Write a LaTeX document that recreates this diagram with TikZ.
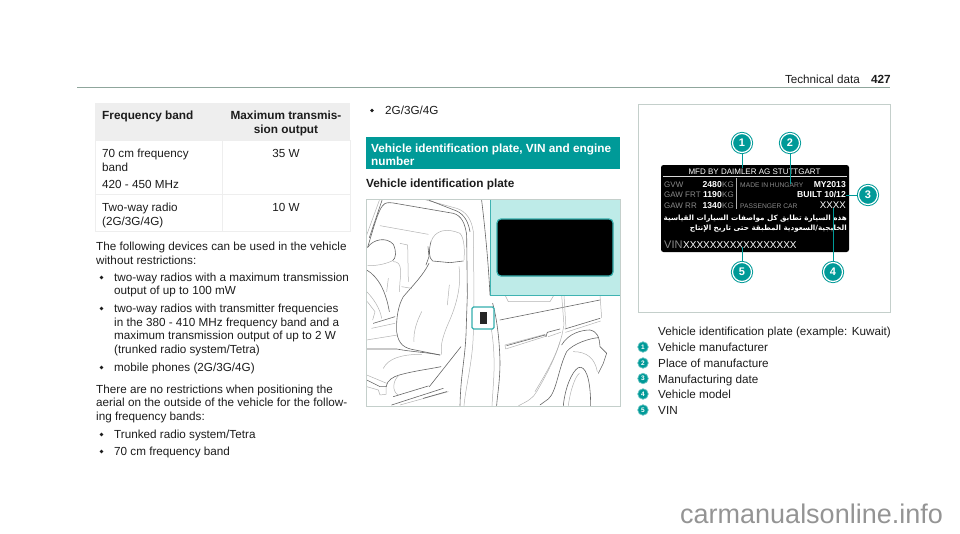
\documentclass[tikz,border=0pt]{standalone}
\usepackage{fontspec}
\usepackage{xcolor}
\usepackage{tikz}
\setmainfont{Liberation Sans}
\newfontfamily\arabicfont[Script=Arabic]{DejaVu Sans}
\TeXXeTstate=1
\definecolor{ink}{HTML}{1C1C1C}
\definecolor{band}{HTML}{009A98}
\definecolor{panel}{HTML}{BEEBE8}
\definecolor{edge}{HTML}{C4CFCB}
\definecolor{rowbg}{HTML}{EEEEEE}
\definecolor{rule}{HTML}{8FA69C}
\definecolor{plategrey}{HTML}{8A8A8A}
\tikzset{
  txt/.style={anchor=base west, inner sep=0pt, text=ink, font=\fontsize{11.7}{13}\selectfont},
  txtb/.style={txt, font=\fontsize{11.8}{13}\selectfont\bfseries},
  txtc/.style={txt, anchor=base},
  txtbc/.style={txtb, anchor=base},
  txtr/.style={txt, anchor=base east},
  dot/.style={circle, fill=ink, inner sep=1.4pt},
  cell/.style={draw=rowbg, line width=0.8pt},
  art/.style={draw=black!60, line width=0.6pt, line cap=round, line join=round},
  artl/.style={draw=black!30, line width=0.5pt, line cap=round, line join=round},
  callout/.style={circle, draw=band, double=white, double distance=1.2pt, line width=1pt, fill=band,
    text=white, inner sep=0pt, minimum size=19pt, font=\fontsize{11}{11}\selectfont\bfseries},
  lead/.style={draw=band, line width=1pt},
  keydot/.style={circle, fill=band, draw=band!60, line width=0.7pt, text=white, inner sep=0pt,
    minimum size=10.5pt, font=\fontsize{6.5}{6.5}\selectfont\bfseries},
  plate/.style={anchor=base west, inner sep=0pt, text=white, font=\fontsize{8}{8}\selectfont},
  plateb/.style={plate, font=\fontsize{8.6}{9}\selectfont\bfseries},
  plateg/.style={plate, text=plategrey},
  plategs/.style={plateg, font=\fontsize{6.7}{8}\selectfont},
  arab/.style={anchor=base east, inner sep=0pt, text=white, font=\fontsize{7.2}{8}\arabicfont\bfseries}
}
\begin{document}
\begin{tikzpicture}[x=1pt,y=-1pt]
  \useasboundingbox (0,0) rectangle (960,533);
  % running head
  \draw[rule, line width=1pt] (77,87.5) -- (890,87.5);
  \node[txtr] (headtitle) at (860,83) {Technical data};
  \node[txtb, anchor=base east] (headpage) at (891,83) {427};

  % table
  \fill[rowbg] (95,103) rectangle (350,140);
  \draw[cell] (95,140) rectangle (350,194);
  \draw[cell] (95,194) rectangle (350,231);
  \draw[cell] (222,140) -- (222,231);
  \node[txtb] (thband) at (102,119) {Frequency band};
  \node[txtbc] (thmaxa) at (286,119) {Maximum transmis-};
  \node[txtbc] (thmaxb) at (286,133) {sion output};
  \node[txt] (rowa) at (102,157) {70 cm frequency};
  \node[txt] (rowb) at (102,171) {band};
  \node[txt] (rowc) at (102,188) {420 - 450 MHz};
  \node[txtc] (rowd) at (286,157) {35 W};
  \node[txt] (rowe) at (102,211) {Two-way radio};
  \node[txt] (rowf) at (102,225) {(2G/3G/4G)};
  \node[txtc] (rowg) at (286,211) {10 W};

  % left column
  \node[txt] (para1a) at (96,250) {The following devices can be used in the vehicle};
  \node[txt] (para1b) at (96,264) {without restrictions:};
  \node[dot] (b1) at (101.5,277.5) {};
  \node[txt] (l1a) at (114,281) {two-way radios with a maximum transmission};
  \node[txt] (l1b) at (114,294) {output of up to 100 mW};
  \node[dot] (b2) at (101.5,308.5) {};
  \node[txt] (l2a) at (114,312) {two-way radios with transmitter frequencies};
  \node[txt] (l2b) at (114,326) {in the 380 - 410 MHz frequency band and a};
  \node[txt] (l2c) at (114,339) {maximum transmission output of up to 2 W};
  \node[txt] (l2d) at (114,353) {(trunked radio system/Tetra)};
  \node[dot] (b3) at (101.5,367.5) {};
  \node[txt] (l3a) at (114,371) {mobile phones (2G/3G/4G)};
  \node[txt] (para2a) at (96,393) {There are no restrictions when positioning the};
  \node[txt] (para2b) at (96,406) {aerial on the outside of the vehicle for the follow-};
  \node[txt] (para2c) at (96,420) {ing frequency bands:};
  \node[dot] (b4) at (101.5,434.5) {};
  \node[txt] (l4a) at (114,438) {Trunked radio system/Tetra};
  \node[dot] (b5) at (101.5,451.5) {};
  \node[txt] (l5a) at (114,455) {70 cm frequency band};

  % middle column
  \node[dot] (b6) at (372,110.5) {};
  \node[txt] (l6a) at (385,114) {2G/3G/4G};
  \fill[band] (366,137) rectangle (620,169);
  \node[txtb, text=white] (banda) at (371,152) {Vehicle identification plate, VIN and engine};
  \node[txtb, text=white] (bandb) at (371,165) {number};
  \node[txtb] (subhead) at (366,187) {Vehicle identification plate};

  % door drawing
  \begin{scope}
    \clip (366,199.5) rectangle (620,406);
    \begin{scope}[shift={(360,195)},x=0.3333pt,y=-0.3333pt]
      % door frame
      \draw[art] (23,157) .. controls (40,100) and (55,45) .. (68,32) .. controls (75,22) and (85,22) .. (100,24)
        -- (280,55) .. controls (305,62) and (315,85) .. (320,120) -- (322,300) -- (318,420) .. controls (314,500) and (302,540) .. (300,632);
      \draw[artl] (195,14) -- (290,40) .. controls (320,50) and (335,75) .. (340,110) -- (342,300) -- (340,415) .. controls (338,500) and (318,570) .. (312,632);
      \draw[art] (208,16) -- (290,48) .. controls (312,58) and (325,80) .. (330,110);
      \draw[artl] (20,120) -- (58,16);
      \draw[art] (28,128) -- (66,16);
      \draw[art] (365,16) .. controls (375,100) and (385,200) .. (390,300);
      \draw[art] (398,325) .. controls (408,360) and (418,420) .. (420,500) .. controls (420,560) and (412,600) .. (410,632);
      \draw[artl] (390,380) .. controls (402,440) and (405,500) .. (400,570) -- (396,632);
      % rear window line
      \draw[artl] (60,92) -- (205,118);
      \draw[artl] (120,145) -- (143,150) -- (145,260);
      % left headrest
      \draw[art] (23,157) .. controls (40,132) and (80,125) .. (100,148) .. controls (110,170) and (108,190) .. (98,197);
      \draw[artl] (98,197) .. controls (70,210) and (45,212) .. (23,212);
      % left seat and wheel
      \draw[artl] (100,200) .. controls (122,200) and (125,220) .. (120,260) -- (118,290);
      \draw[art] (20,225) .. controls (55,245) and (78,290) .. (88,350);
      \draw[artl] (20,290) .. controls (40,310) and (60,340) .. (65,370);
      \draw[artl] (22,320) -- (45,350) -- (38,375);
      \draw[artl] (85,250) -- (80,290);
      \draw[art] (40,385) -- (105,365);
      \draw[artl] (35,400) -- (105,385);
      \draw[artl] (20,435) -- (112,420);
      % right headrest
      \draw[artl] (213,140) .. controls (225,105) and (260,98) .. (300,115) .. controls (314,130) and (314,170) .. (312,195);
      \draw[art] (213,140) .. controls (206,165) and (206,190) .. (218,198) -- (270,203) -- (310,198);
      \draw[art] (204,155) -- (207,185) -- (198,210);
      % seat back
      \draw[art] (207,205) .. controls (190,240) and (160,270) .. (130,305) .. controls (115,330) and (108,370) .. (110,410) .. controls (115,450) and (135,460) .. (165,465) -- (240,480);
      \draw[artl] (297,215) .. controls (305,270) and (290,330) .. (265,385) .. controls (250,420) and (240,450) .. (245,478);
      \draw[artl] (185,350) .. controls (170,380) and (160,410) .. (162,440);
      \draw[artl] (268,270) -- (262,330);
      \draw[artl] (125,275) -- (155,280);
      % cushion
      \draw[art] (20,462) -- (110,462) .. controls (150,470) and (200,472) .. (240,480);
      \draw[artl] (70,520) .. controls (85,490) and (125,478) .. (185,478);
      \draw[art] (78,575) .. controls (82,555) and (100,545) .. (118,540) .. controls (160,528) and (210,522) .. (243,515);
      \draw[artl] (118,540) .. controls (98,555) and (95,590) .. (115,600);
      \draw[art] (100,605) -- (205,573);
      \draw[art] (208,575) -- (303,455);
      \draw[artl] (20,540) -- (80,565);
      \draw[art] (20,555) -- (60,575) -- (80,575);
      \draw[artl] (20,575) -- (55,585) -- (60,600) -- (78,598) -- (78,575);
      \draw[art] (95,630) -- (250,580);
      \draw[artl] (120,630) -- (265,590);
      \draw[art] (190,610) -- (260,590);
      % door panel
      \draw[art] (420,375) -- (720,315);
      \draw[artl] (435,300) -- (445,320) -- (570,320) -- (582,300);
      \draw[artl] (435,450) -- (555,418) -- (557,424) -- (437,462) -- cycle;
      \draw[art] (440,452) -- (555,420);
      \draw[art] (558,425) -- (562,412) -- (600,402);
      \draw[artl] (565,425) -- (602,412);
      \draw[art] (615,402) -- (720,370);
      \draw[artl] (617,412) -- (722,378);
      \draw[artl] (605,300) -- (612,390) -- (606,420);
      \draw[artl] (612,300) -- (618,400);
      \draw[artl] (720,300) -- (725,368);
      % wheel arch
      \draw[artl] (606,420) .. controls (590,480) and (565,530) .. (530,590) .. controls (520,610) and (500,620) .. (476,632);
      \draw[artl] (600,440) .. controls (585,490) and (555,540) .. (525,590);
      \draw[art] (605,450) .. controls (625,415) and (665,405) .. (690,405) .. controls (712,410) and (718,425) .. (720,455) -- (740,475) -- (730,505) -- (715,535);
      \draw[art] (540,630) -- (565,612) .. controls (590,590) and (595,520) .. (620,470) .. controls (640,445) and (690,430) .. (715,428);
      \draw[artl] (640,470) .. controls (680,470) and (705,490) .. (712,530);
      \draw[art] (610,632) .. controls (615,580) and (635,530) .. (655,518) .. controls (675,510) and (692,545) .. (692,632);
      \draw[artl] (625,632) .. controls (630,590) and (645,545) .. (658,535);
    \end{scope}
  \end{scope}
  \draw[edge, line width=1pt] (366,199.5) rectangle (620,406);
  \fill[panel] (490,199.5) rectangle (620,295);
  \draw[band!75, line width=1pt] (490,199.5) -- (490,295) -- (620,295);
  \draw[band!80, fill=black, line width=1.2pt, rounded corners=4pt] (497,219) rectangle (613,276);
  \draw[band!80, fill=white, line width=1.2pt, rounded corners=1.5pt] (472,307) rectangle (494,329);
  \fill[black!85] (480,312) rectangle (487,324);

  % plate frame
  \draw[edge, line width=1pt] (638,104) rectangle (890,312);
  \fill[black, rounded corners=2.5pt] (661,165) rectangle (849,252);
  \draw[white!85!black, line width=0.4pt] (663,176) -- (847,176);
  \draw[white!70!black, line width=0.4pt] (736,178) -- (736,209);
  \node[plateb, anchor=base, font=\fontsize{8}{9}\selectfont] (mfd) at (754.5,174) {MFD BY DAIMLER AG STUTTGART};
  \node[plateg] (gvw) at (664,187) {GVW};
  \node[plateb, anchor=base east] (gvwval) at (722,187) {2480};
  \node[plateg] (gvwkg) at (722,187) {KG};
  \node[plateg] (gawf) at (664,197) {GAW FRT};
  \node[plateb, anchor=base east] (gawfval) at (722,197) {1190};
  \node[plateg] (gawfkg) at (722,197) {KG};
  \node[plateg] (gawr) at (664,208) {GAW RR};
  \node[plateb, anchor=base east] (gawrval) at (722,208) {1340};
  \node[plateg] (gawrkg) at (722,208) {KG};
  \node[plategs] (made) at (740,187) {MADE IN HUNGARY};
  \node[plateb, anchor=base east] (myear) at (846,187) {MY2013};
  \node[plateb, anchor=base east] (built) at (846,197) {BUILT 10/12};
  \node[plategs] (pass) at (740,208) {PASSENGER CAR};
  \node[plate, anchor=base east, font=\fontsize{9.7}{9}\selectfont] (xxxx) at (846,208) {XXXX};
  \node[arab] (araba) at (847,220.5) {\beginR هذه السيارة تطابق كل مواصفات السيارات القياسية\endR};
  \node[arab] (arabb) at (847,230.5) {\beginR الخليجية/السعودية المطبقة حتى تاريخ الإنتاج\endR};
  \node[plateg, font=\fontsize{11}{11}\selectfont] (vin) at (664,248) {VIN};
  \node[plate, font=\fontsize{10}{11}\selectfont] (vinx) at (683,248) {XXXXXXXXXXXXXXXXX};

  % callouts
  \node[callout] (c1) at (742,143) {1};
  \node[callout] (c2) at (790,143) {2};
  \node[callout] (c3) at (868,195) {3};
  \node[callout] (c4) at (833,272) {4};
  \node[callout] (c5) at (742,272) {5};
  \coordinate (e1) at (742,168);
  \coordinate (e2) at (790,184);
  \coordinate (e3) at (846,195);
  \coordinate (e4) at (833,208);
  \coordinate (e5) at (742,247);
  \draw[lead] (c1) -- (e1);
  \draw[lead] (c2) -- (e2);
  \draw[lead] (c3) -- (e3);
  \draw[lead] (c4) -- (e4);
  \draw[lead] (c5) -- (e5);

  % key
  \node[txt] (capt) at (658,335) {Vehicle identification plate (example: Kuwait)};
  \node[keydot] (k1) at (643,347) {1};
  \node[txt] (t1) at (658,351) {Vehicle manufacturer};
  \node[keydot] (k2) at (643,363) {2};
  \node[txt] (t2) at (658,367) {Place of manufacture};
  \node[keydot] (k3) at (643,378.5) {3};
  \node[txt] (t3) at (658,383) {Manufacturing date};
  \node[keydot] (k4) at (643,394) {4};
  \node[txt] (t4) at (658,398) {Vehicle model};
  \node[keydot] (k5) at (643,410) {5};
  \node[txt] (t5) at (658,414) {VIN};

  % footer mark
  \node[anchor=base west, inner sep=0pt, text=black!42, font=\fontsize{27}{27}\selectfont] (mark) at (680,523) {carmanualsonline.info};
\end{tikzpicture}
\end{document}
